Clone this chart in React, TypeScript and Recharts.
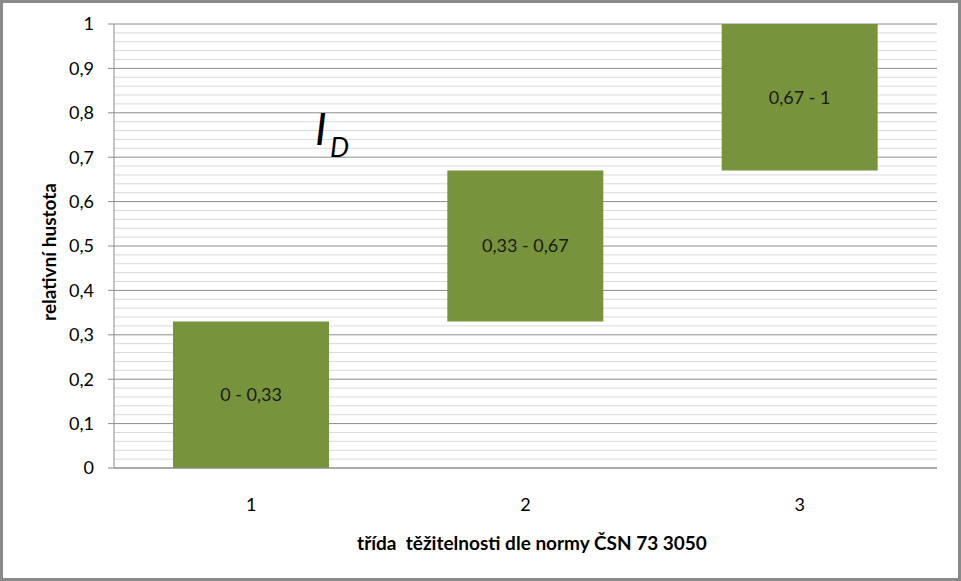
import React from 'react';
import { BarChart, Bar, XAxis, YAxis, CartesianGrid, LabelList, Customized } from 'recharts';

// classes of excavation difficulty and their relative density ranges
const classes = ['1', '2', '3'];
const rangeStart = [0, 0.33, 0.67];
const rangeSize = [0.33, 0.34, 0.33];
const rangeLabels = ['0 - 0,33', '0,33 - 0,67', '0,67 - 1'];

const yTicks = [0, 0.1, 0.2, 0.3, 0.4, 0.5, 0.6, 0.7, 0.8, 0.9, 1];
const yMinor = [
  0.02, 0.04, 0.06, 0.08, 0.12, 0.14, 0.16, 0.18, 0.22, 0.24, 0.26, 0.28,
  0.32, 0.34, 0.36, 0.38, 0.42, 0.44, 0.46, 0.48, 0.52, 0.54, 0.56, 0.58,
  0.62, 0.64, 0.66, 0.68, 0.72, 0.74, 0.76, 0.78, 0.82, 0.84, 0.86, 0.88,
  0.92, 0.94, 0.96, 0.98,
];

const data = classes.map((c, i) => ({
  name: c,
  base: rangeStart[i],
  range: rangeSize[i],
  label: rangeLabels[i],
}));

const FONT = 'Lato, "Open Sans", sans-serif';

const Titles = () => (
  <g fontFamily={FONT}>
    <text x={532} y={550} textAnchor="middle" fontSize={19} fontWeight={700} fill="#000" style={{ whiteSpace: 'pre' }}>
      {'třída  těžitelnosti dle normy ČSN 73 3050'}
    </text>
    <text
      x={56}
      y={252}
      textAnchor="middle"
      fontSize={19}
      fontWeight={700}
      fill="#000"
      transform="rotate(-90 56 252)"
    >
      relativní hustota
    </text>
    <text x={315} y={145} fontSize={44} fontStyle="italic" fill="#000">
      I
    </text>
    <text x={330} y={157} fontSize={27} fontStyle="italic" fill="#000">
      D
    </text>
  </g>
);

const App: React.FC = () => {
  return (
    <div style={{ position: 'absolute', left: 0, top: 0, width: 961, height: 581, background: '#fff' }}>
      <BarChart
        width={961}
        height={581}
        data={data}
        barSize={156}
        margin={{ top: 24, right: 24, left: 0, bottom: 0 }}
      >
        <CartesianGrid horizontalValues={yMinor} vertical={false} stroke="#d9d9d9" strokeWidth={1} />
        <CartesianGrid vertical={false} stroke="#8c8c8c" strokeWidth={1} />
        <XAxis
          dataKey="name"
          height={113}
          axisLine={{ stroke: '#8c8c8c' }}
          tickLine={false}
          tickMargin={24}
          tick={{ fill: '#000', fontSize: 18, fontFamily: FONT }}
        />
        <YAxis
          width={114}
          domain={[0, 1]}
          ticks={yTicks}
          interval={0}
          axisLine={{ stroke: '#8c8c8c' }}
          tickLine={{ stroke: '#8c8c8c' }}
          tickSize={6}
          tickMargin={14}
          tickFormatter={(v: number) => String(v).replace('.', ',')}
          tick={{ fill: '#000', fontSize: 18, fontFamily: FONT }}
        />
        <Bar dataKey="base" stackId="a" fill="transparent" isAnimationActive={false} />
        <Bar dataKey="range" stackId="a" fill="#77933C" isAnimationActive={false}>
          <LabelList
            dataKey="label"
            position="center"
            fill="#1a1a1a"
            fontSize={18}
            fontFamily={FONT}
          />
        </Bar>
        <Customized component={Titles} />
      </BarChart>
      <div
        style={{
          position: 'absolute',
          left: 0,
          top: 0,
          width: 961,
          height: 581,
          boxSizing: 'border-box',
          border: '3px solid #8a8a8a',
          pointerEvents: 'none',
        }}
      />
    </div>
  );
};

export default App;
